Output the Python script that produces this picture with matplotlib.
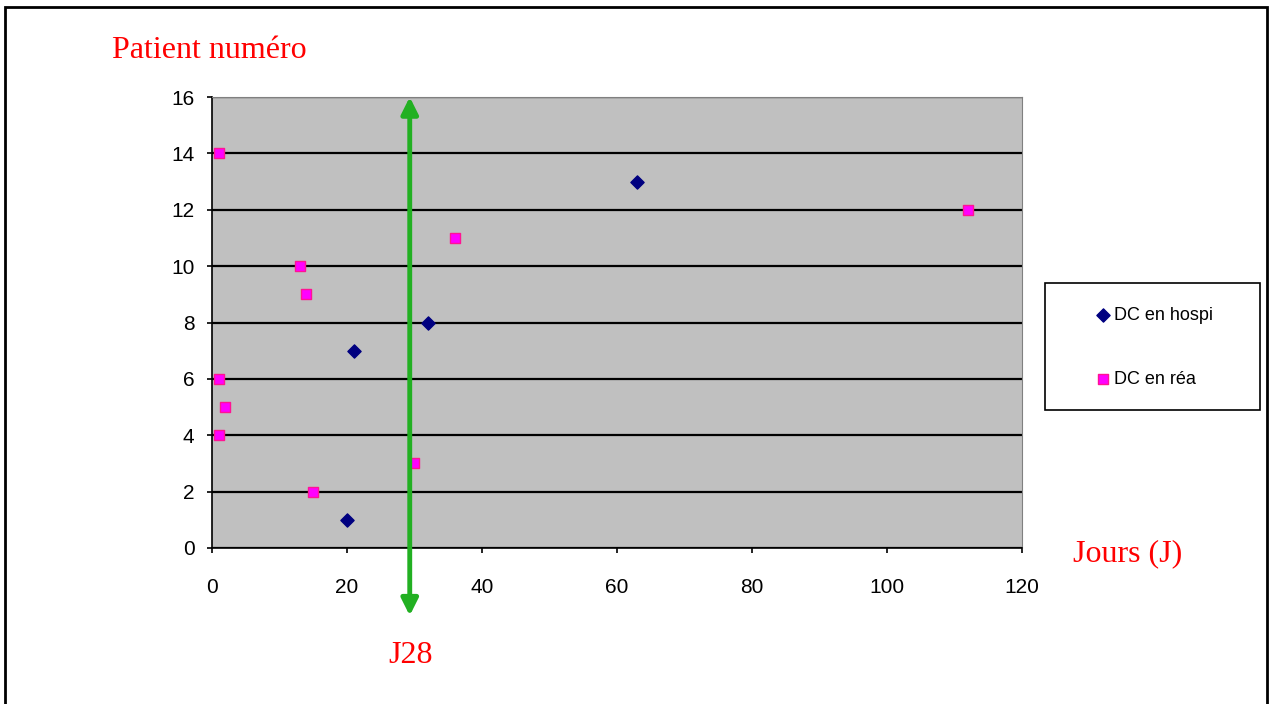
import matplotlib.pyplot as plt
from matplotlib.patches import Rectangle

# DC en hospi
hospi_days = [20, 21, 32, 63]
hospi_patient = [1, 7, 8, 13]

# DC en rea
rea_days = [1, 13, 14, 1, 2, 1, 15, 30, 36, 112]
rea_patient = [14, 10, 9, 6, 5, 4, 2, 3, 11, 12]

x_ticks = [0, 20, 40, 60, 80, 100, 120]
y_ticks = [0, 2, 4, 6, 8, 10, 12, 14, 16]
j28_x = 29.3

plt.rcParams['font.family'] = ['Liberation Sans', 'DejaVu Sans']

fig = plt.figure(figsize=(12.7, 7.04), dpi=100)
# outer frame
fig.patches.append(Rectangle((0.004, -0.01), 0.994, 1.0, transform=fig.transFigure,
                             fill=False, edgecolor='black', linewidth=2))

ax = fig.add_axes([0.1669, 0.2216, 0.6378, 0.6406])
ax.set_facecolor('#c0c0c0')
ax.set_xlim(0, 120)
ax.set_ylim(0, 16)
ax.set_xticks(x_ticks)
ax.set_yticks(y_ticks)
ax.grid(axis='y', color='black', linewidth=1.6)
ax.set_axisbelow(True)
for side in ['top', 'right']:
    ax.spines[side].set_color('#808080')
for side in ['left', 'bottom']:
    ax.spines[side].set_color('black')
    ax.spines[side].set_linewidth(1.2)
ax.tick_params(labelsize=15, length=3.6, width=1.2, direction='out')
ax.tick_params(axis='y', pad=9)
ax.tick_params(axis='x', pad=18)

ax.scatter(hospi_days, hospi_patient, marker='D', s=45, color='#000080',
           label='DC en hospi', zorder=3, clip_on=False)
ax.scatter(rea_days, rea_patient, marker='s', s=60, facecolor='#ff00ff',
           edgecolor='#ff1493', linewidth=1, label='DC en réa', zorder=3, clip_on=False)

# J28 double arrow
ax.annotate('', xy=(j28_x, 16), xytext=(j28_x, -2.4),
            arrowprops=dict(arrowstyle='<|-|>', color='#22b022', lw=3.5,
                            mutation_scale=25, shrinkA=0, shrinkB=0),
            annotation_clip=False, zorder=5)

fig.text(0.088, 0.928, 'Patient numéro', color='red', fontsize=23,
         family='Liberation Serif', ha='left', va='center')
fig.text(0.845, 0.214, 'Jours (J)', color='red', fontsize=23,
         family='Liberation Serif', ha='left', va='center')
fig.text(0.323, 0.069, 'J28', color='red', fontsize=23,
         family='Liberation Serif', ha='center', va='center')

# legend box
fig.patches.append(Rectangle((1045 / 1270, 1 - 410 / 704), 215 / 1270, 127 / 704,
                             transform=fig.transFigure, fill=True, facecolor='white',
                             edgecolor='black', linewidth=1.2, zorder=1))
leg = fig.legend(loc='upper left', bbox_to_anchor=(1085 / 1270, 1 - 298 / 704), fontsize=13,
                 frameon=False, handletextpad=0.1, labelspacing=2.6, borderpad=0,
                 handlelength=1.0, markerscale=1.0)
leg.set_zorder(2)

fig.savefig('out.png', dpi=100)
